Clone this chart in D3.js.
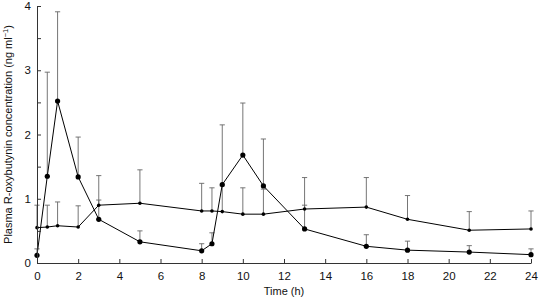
<!DOCTYPE html>
<html>
<head>
<meta charset="utf-8">
<script src="https://cdn.jsdelivr.net/npm/d3@7"></script>
<style>
  html, body { margin: 0; padding: 0; background: #fff; }
  svg { display: block; }
  text { font-family: "Liberation Sans", Arial, Helvetica, sans-serif; }
</style>
</head>
<body>
<svg id="chart" width="539" height="299"></svg>
<script>
// ---- data ----
const times = [0, 0.5, 1, 2, 3, 5, 8, 8.5, 9, 10, 11, 13, 16, 18, 21, 24];
const seriesAMean = [0.12, 1.35, 2.52, 1.34, 0.68, 0.33, 0.19, 0.30, 1.22, 1.68, 1.20, 0.53, 0.26, 0.20, 0.17, 0.13];
const seriesASD   = [0.10, 1.62, 1.39, 0.62, 0.30, 0.17, 0.11, 0.17, 0.93, 0.81, 0.73, 0.37, 0.18, 0.14, 0.10, 0.09];
const seriesBMean = [0.55, 0.56, 0.58, 0.56, 0.90, 0.93, 0.81, 0.81, 0.80, 0.76, 0.76, 0.84, 0.87, 0.68, 0.51, 0.53];
const seriesBSD   = [0.35, 0.34, 0.37, 0.33, 0.46, 0.52, 0.43, 0.36, 0.40, 0.41, 0.39, 0.49, 0.46, 0.37, 0.29, 0.28];
const xTicks = [0, 2, 4, 6, 8, 10, 12, 14, 16, 18, 20, 22, 24];
const yTicks = [0, 0.5, 1, 1.5, 2, 2.5, 3, 3.5, 4];
const xLabel = "Time (h)";
const yLabel = "Plasma R-oxybutynin concentration (ng ml";

// ---- layout ----
const svg = d3.select("#chart");
const x = d3.scaleLinear().domain([0, 24]).range([37, 531]);
const y = d3.scaleLinear().domain([0, 4]).range([263, 6]);

const series = [
  { mean: seriesBMean, sd: seriesBSD, r: 1.8 },
  { mean: seriesAMean, sd: seriesASD, r: 2.6 }
];

// error bars
const capW = 2.6;
series.forEach(s => {
  const g = svg.append("g").attr("stroke", "#666").attr("stroke-width", 0.9).attr("fill", "none");
  times.forEach((t, i) => {
    const cx = x(t), y0 = y(s.mean[i]), y1 = y(s.mean[i] + s.sd[i]);
    g.append("line").attr("x1", cx).attr("x2", cx).attr("y1", y0).attr("y2", y1);
    g.append("line").attr("x1", cx - capW).attr("x2", cx + capW).attr("y1", y1).attr("y2", y1);
  });
});

// lines and markers
series.forEach(s => {
  const line = d3.line().x((d, i) => x(times[i])).y(d => y(d));
  svg.append("path").datum(s.mean).attr("d", line)
    .attr("fill", "none").attr("stroke", "#000").attr("stroke-width", 1);
  svg.append("g").selectAll("circle").data(s.mean).join("circle")
    .attr("cx", (d, i) => x(times[i])).attr("cy", d => y(d)).attr("r", s.r).attr("fill", "#000");
});

// axes
const xAxis = d3.axisBottom(x).tickValues(xTicks).tickSizeInner(-4).tickSizeOuter(0).tickPadding(9).tickFormat(d3.format("d"));
const gx = svg.append("g").attr("transform", `translate(0,${y(0)})`).call(xAxis);
const yAxis = d3.axisLeft(y).tickValues(yTicks).tickSizeInner(-4).tickSizeOuter(0).tickPadding(6)
  .tickFormat(d => Number.isInteger(d) ? d3.format("d")(d) : "");
const gy = svg.append("g").attr("transform", `translate(${x(0)},0)`).call(yAxis);
[gx, gy].forEach(g => {
  g.selectAll("path, line").attr("stroke", "#333");
  g.selectAll("text").attr("font-size", 11.5).attr("fill", "#111")
    .attr("font-family", '"Liberation Sans", Arial, sans-serif');
});

// axis labels
svg.append("text").attr("x", (x(0) + x(24)) / 2).attr("y", 295)
  .attr("text-anchor", "middle").attr("font-size", 11).attr("fill", "#111").text(xLabel);
const yl = svg.append("text").attr("transform", `translate(12,${(y(0) + y(4)) / 2}) rotate(-90)`)
  .attr("text-anchor", "middle").attr("font-size", 11).attr("fill", "#111");
yl.append("tspan").text(yLabel);
yl.append("tspan").attr("font-size", 7.5).attr("dy", -4).text("−1");
yl.append("tspan").attr("dy", 4).text(")");
</script>
</body>
</html>
